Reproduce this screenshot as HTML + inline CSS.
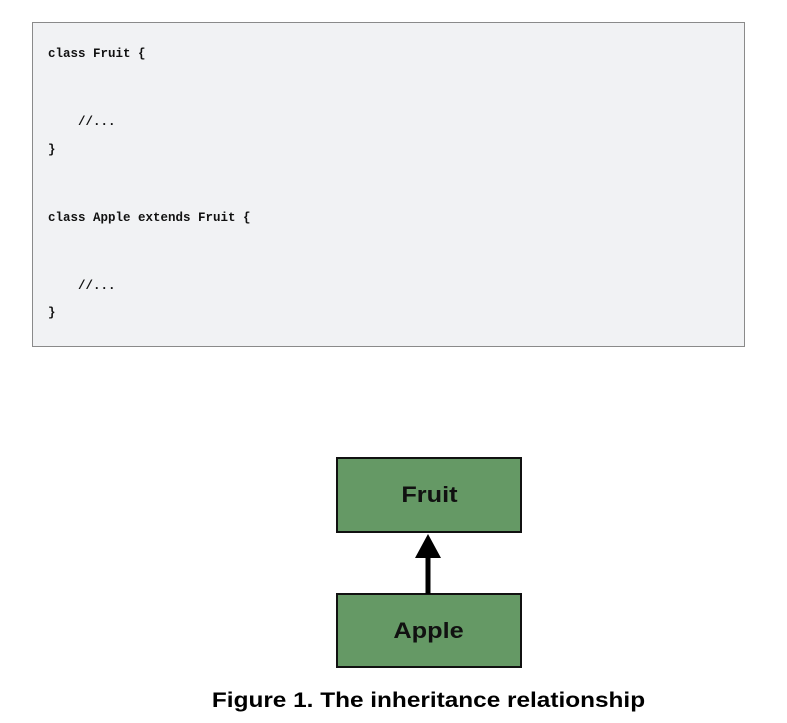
<!DOCTYPE html>
<html><head><style>
body{margin:0;width:787px;height:723px;background:#fff;position:relative;overflow:hidden}
.code{position:absolute;left:32px;top:22px;width:711px;height:323px;border:1px solid #8a8a8a;background:#f1f2f4}
.l{position:absolute;left:15px;font-family:"Liberation Mono","Noto Serif CJK SC",monospace;font-size:12.5px;color:#111;white-space:pre;line-height:14px;font-weight:bold}
.box{position:absolute;left:336px;width:182px;background:#659965;border:2px solid #111;font-family:"Liberation Sans",sans-serif;font-weight:bold;font-size:22px;color:#111;text-align:center}
.box span{display:inline-block;transform:scaleX(1.15)}
.cap{position:absolute;top:689px;text-align:center;font-family:"Liberation Sans",sans-serif;font-weight:bold;font-size:21px;line-height:24px;color:#000;transform:scaleX(1.16);transform-origin:428.5px 0}
</style></head><body>
<div class="code">
<div class="l" style="top:24px">class Fruit {</div>
<div class="l" style="top:92px">    //...</div>
<div class="l" style="top:120px">}</div>
<div class="l" style="top:188px">class Apple extends Fruit {</div>
<div class="l" style="top:256px">    //...</div>
<div class="l" style="top:283px">}</div>
</div>
<div class="box" style="top:457px;height:72px;line-height:72px"><span>Fruit</span></div>
<div class="box" style="top:593px;height:71px;line-height:71px"><span>Apple</span></div>
<svg style="position:absolute;left:0;top:0" width="787" height="723">
<line x1="428" y1="556" x2="428" y2="594" stroke="#000" stroke-width="5"/>
<polygon points="428,534 415,558 441,558" fill="#000"/>
</svg>
<div class="cap" style="left:0;width:857px">Figure 1. The inheritance relationship</div>
</body></html>
